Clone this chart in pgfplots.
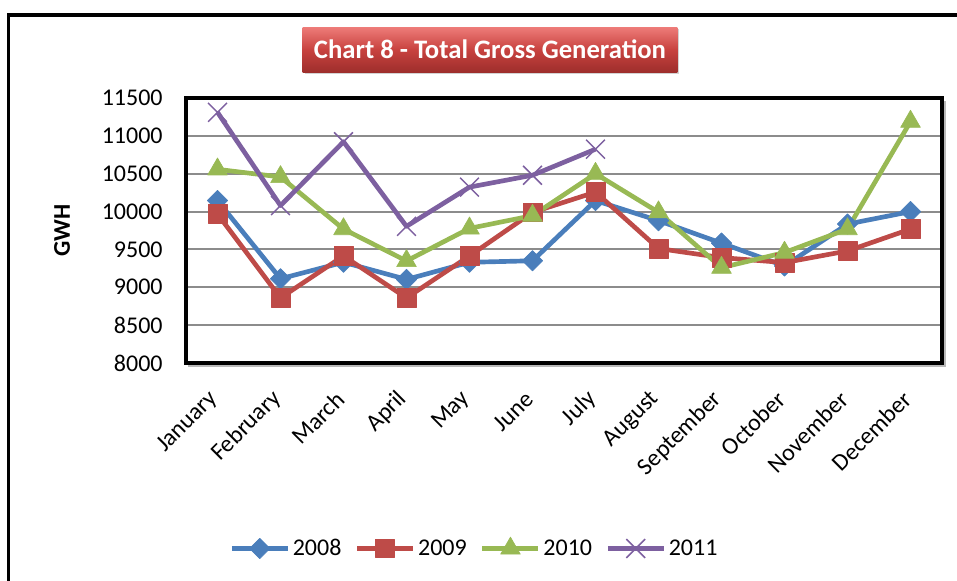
\documentclass[border=0pt]{standalone}
\usepackage{fontspec}
\setmainfont{Carlito}
\usepackage{pgfplots}
\pgfplotsset{compat=1.18}
\usetikzlibrary{shadows}
\definecolor{c08}{HTML}{4A7EBB}
\definecolor{c09}{HTML}{BE4B48}
\definecolor{c10}{HTML}{98B954}
\definecolor{c11}{HTML}{7D60A0}
\definecolor{ttop}{HTML}{EE7C79}
\definecolor{tmid}{HTML}{C8423F}
\definecolor{tbot}{HTML}{9E2E2C}
\begin{document}
\begin{tikzpicture}
\useasboundingbox (0,0) rectangle (717.75pt,435.75pt);
\draw[line width=2.6pt] (6.5pt,-20pt) -- (6.5pt,424.5pt) -- (740pt,424.5pt);
\node[minimum width=281pt, minimum height=33.75pt, inner sep=0pt,
      top color=ttop, bottom color=tbot, middle color=tmid,
      drop shadow={shadow xshift=1.5pt, shadow yshift=-1.5pt, opacity=0.35},
      text=white, font=\bfseries\fontsize{20}{22}\selectfont]
  at (367.5pt,398.6pt) {Chart 8 - Total Gross Generation};
\draw[gray!55, line width=1.6pt] (141pt,161pt) -- (708.5pt,161pt) -- (708.5pt,360pt);
\begin{axis}[
  at={(139.5pt,163.5pt)}, anchor=south west,
  scale only axis, width=567pt, height=198.75pt,
  xmin=-0.5, xmax=11.5, ymin=8000, ymax=11500,
  ytick={8000,8500,...,11500},
  scaled y ticks=false,
  xtick={0,...,11},
  xticklabels={January,February,March,April,May,June,July,August,September,October,November,December},
  ymajorgrids, grid style={line width=1.5pt, color=black!45},
  axis line style={line width=2.6pt},
  major tick length=0pt,
  tick label style={font=\fontsize{18}{20}\selectfont},
  /pgf/number format/assume math mode=true,
  /pgf/number format/1000 sep={},
  yticklabel style={anchor=east},
  yticklabel shift=14pt,
  xticklabel style={rotate=45, anchor=east},
  xticklabel shift=22pt,
  ylabel={GWH},
  ylabel style={font=\bfseries\fontsize{18}{20}\selectfont, at={(axis description cs:-0.164,0.5)}, anchor=center},
  legend style={draw=none, fill=none, at={(axis description cs:0.382,-0.70)}, anchor=center,
    font=\fontsize{18}{20}\selectfont,
    /tikz/every even column/.append style={column sep=8pt}},
  legend columns=4,
  legend image code/.code={\draw[mark repeat=2,mark phase=2,#1] plot coordinates {(0pt,0pt)(21pt,0pt)(42pt,0pt)};},
  every axis plot/.append style={line width=3.5pt, line join=round},
]
\addplot[c08, mark=square*, mark size=5.4pt, mark options={rotate=45, line width=0.5pt}] coordinates {
(0,10145) (1,9113) (2,9330) (3,9104) (4,9330) (5,9350) (6,10145) (7,9880) (8,9583) (9,9281) (10,9835) (11,9999)};
\addlegendentry{2008}
\addplot[c09, mark=square*, mark size=7pt, mark options={line width=0.5pt}] coordinates {
(0,9968) (1,8860) (2,9414) (3,8860) (4,9414) (5,9990) (6,10257) (7,9512) (8,9392) (9,9326) (10,9480) (11,9769)};
\addlegendentry{2009}
\addplot[c10, mark=triangle*, mark size=8.5pt, mark options={line width=0.5pt}] coordinates {
(0,10558) (1,10457) (2,9769) (3,9348) (4,9778) (5,9946) (6,10500) (7,9991) (8,9259) (9,9459) (10,9769) (11,11188)};
\addlegendentry{2010}
\addplot[c11, mark=x, mark size=10pt, mark options={line width=1.1pt}] coordinates {
(0,11311) (1,10079) (2,10922) (3,9805) (4,10323) (5,10480) (6,10824)};
\addlegendentry{2011}
\end{axis}
\end{tikzpicture}
\end{document}
